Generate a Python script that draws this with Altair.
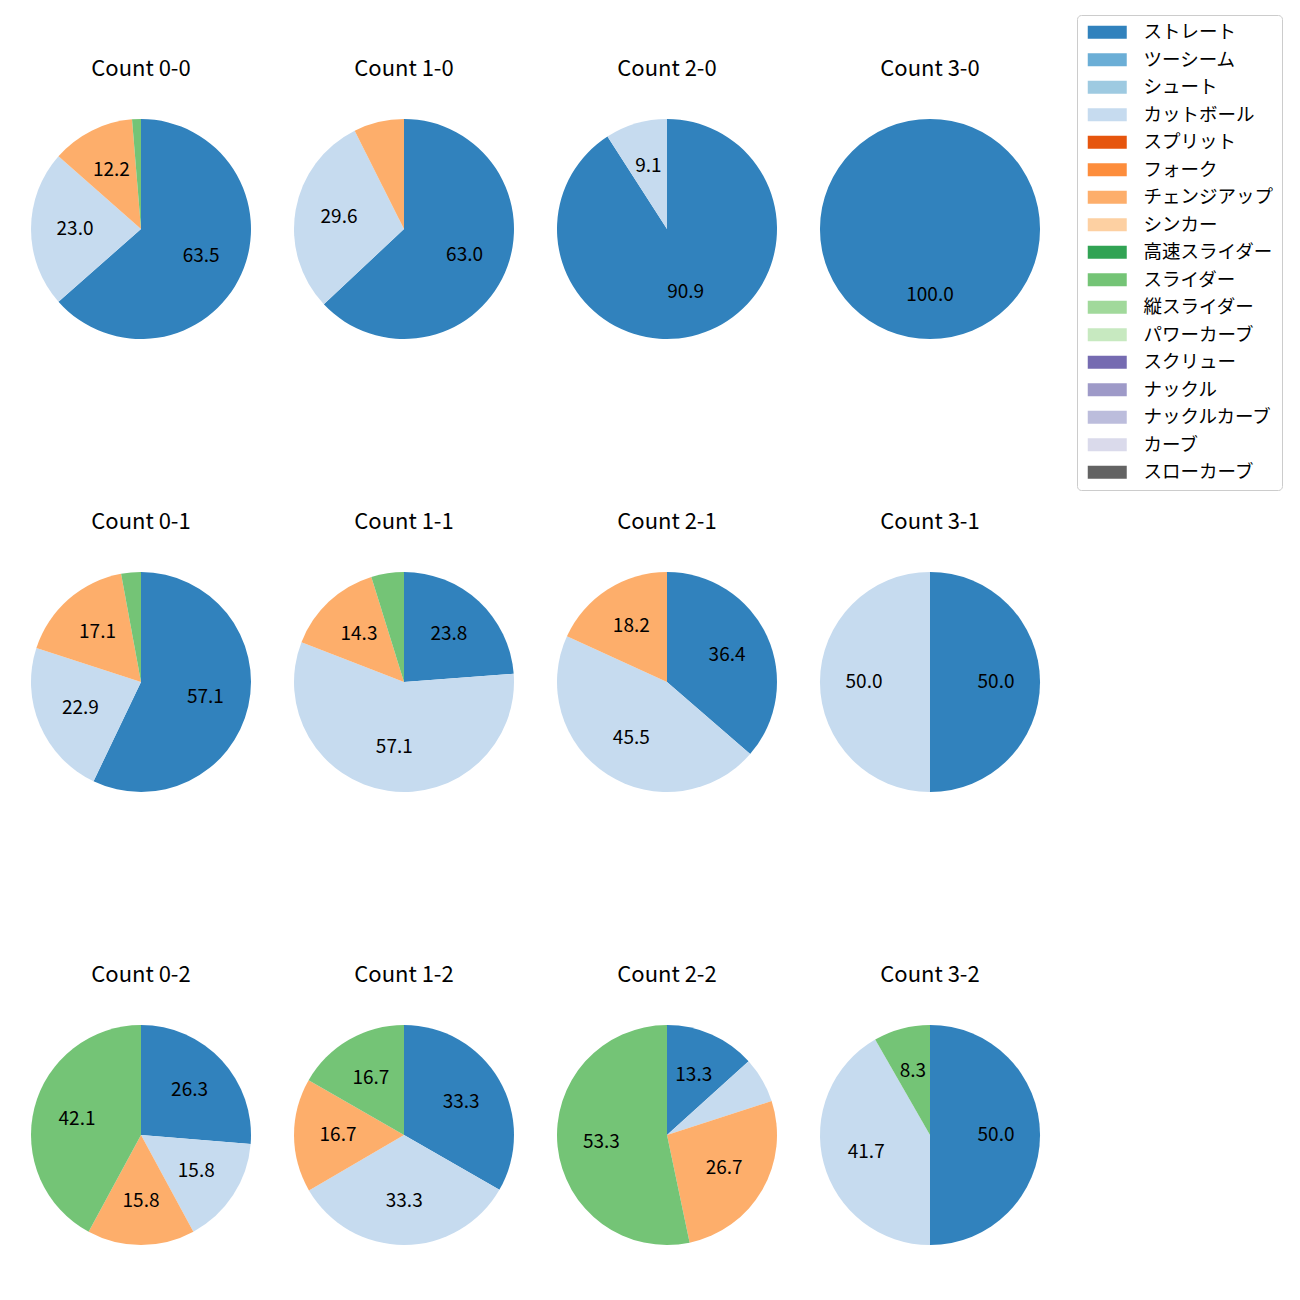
import altair as alt
import pandas as pd

FONT = "Noto Sans CJK JP"

pitch_types = ["ストレート", "ツーシーム", "シュート", "カットボール", "スプリット", "フォーク",
               "チェンジアップ", "シンカー", "高速スライダー", "スライダー", "縦スライダー",
               "パワーカーブ", "スクリュー", "ナックル", "ナックルカーブ", "カーブ", "スローカーブ"]
colors = ["#3182bd", "#6baed6", "#9ecae1", "#c6dbef", "#e6550d", "#fd8d3c", "#fdae6b",
          "#fdd0a2", "#31a354", "#74c476", "#a1d99b", "#c7e9c0", "#756bb1", "#9e9ac8",
          "#bcbddc", "#dadaeb", "#636363"]

counts = ["0-0", "1-0", "2-0", "3-0", "0-1", "1-1", "2-1", "3-1", "0-2", "1-2", "2-2", "3-2"]
straight = [63.5, 63.0, 90.9, 100.0, 57.1, 23.8, 36.4, 50.0, 26.3, 33.3, 13.3, 50.0]
cutter = [23.0, 29.6, 9.1, 0.0, 22.9, 57.1, 45.5, 50.0, 15.8, 33.3, 6.7, 41.7]
changeup = [12.2, 7.4, 0.0, 0.0, 17.1, 14.3, 18.2, 0.0, 15.8, 16.7, 26.7, 0.0]
slider = [1.3, 0.0, 0.0, 0.0, 2.9, 4.8, 0.0, 0.0, 42.1, 16.7, 53.3, 8.3]

series = {"ストレート": straight, "カットボール": cutter, "チェンジアップ": changeup, "スライダー": slider}

rows = []
for i, c in enumerate(counts):
    for name, vals in series.items():
        v = vals[i]
        if v > 0:
            rows.append({
                "title": f"Count {c}",
                "type": name,
                "idx": pitch_types.index(name),
                "value": v,
                "label": f"{v:.1f}" if v >= 8 else "",
            })
df = pd.DataFrame(rows)
titles = [f"Count {c}" for c in counts]

base = alt.Chart(df).encode(
    theta=alt.Theta("value:Q", stack=True),
    order=alt.Order("idx:Q"),
)

pie = base.mark_arc(outerRadius=110).encode(
    color=alt.Color(
        "type:N",
        scale=alt.Scale(domain=pitch_types, range=colors),
        legend=alt.Legend(
            title=None,
            orient="none",
            legendX=1046,
            legendY=-104,
            symbolType="M-1,-1L5,-1L5,1L-1,1Z",
            symbolSize=169,
            symbolStrokeWidth=0,
            labelFontSize=18.5,
            labelFont=FONT,
            labelColor="#000000",
            labelOffset=40,
            rowPadding=8.5,
            padding=8,
            strokeColor="#cccccc",
            fillColor="#ffffff",
            cornerRadius=4,
            labelLimit=300,
        ),
    ),
)

text = base.mark_text(radius=66, fontSize=19, font=FONT, color="#000000").encode(
    text="label:N",
    detail="type:N",
)

layer = alt.layer(pie, text).properties(width=220, height=220)

chart = layer.facet(
    facet=alt.Facet(
        "title:N",
        sort=titles,
        header=alt.Header(title=None, labelFontSize=22, labelFont=FONT,
                          labelColor="#000000", labelPadding=38),
    ),
    columns=4,
    spacing={"row": 172, "column": 43},
).properties(
    padding={"left": 31, "top": 14, "right": 0, "bottom": 0},
    background="#ffffff",
).configure_view(stroke=None)

chart.save("out.html", embed_options={"renderer": "svg", "actions": False})
